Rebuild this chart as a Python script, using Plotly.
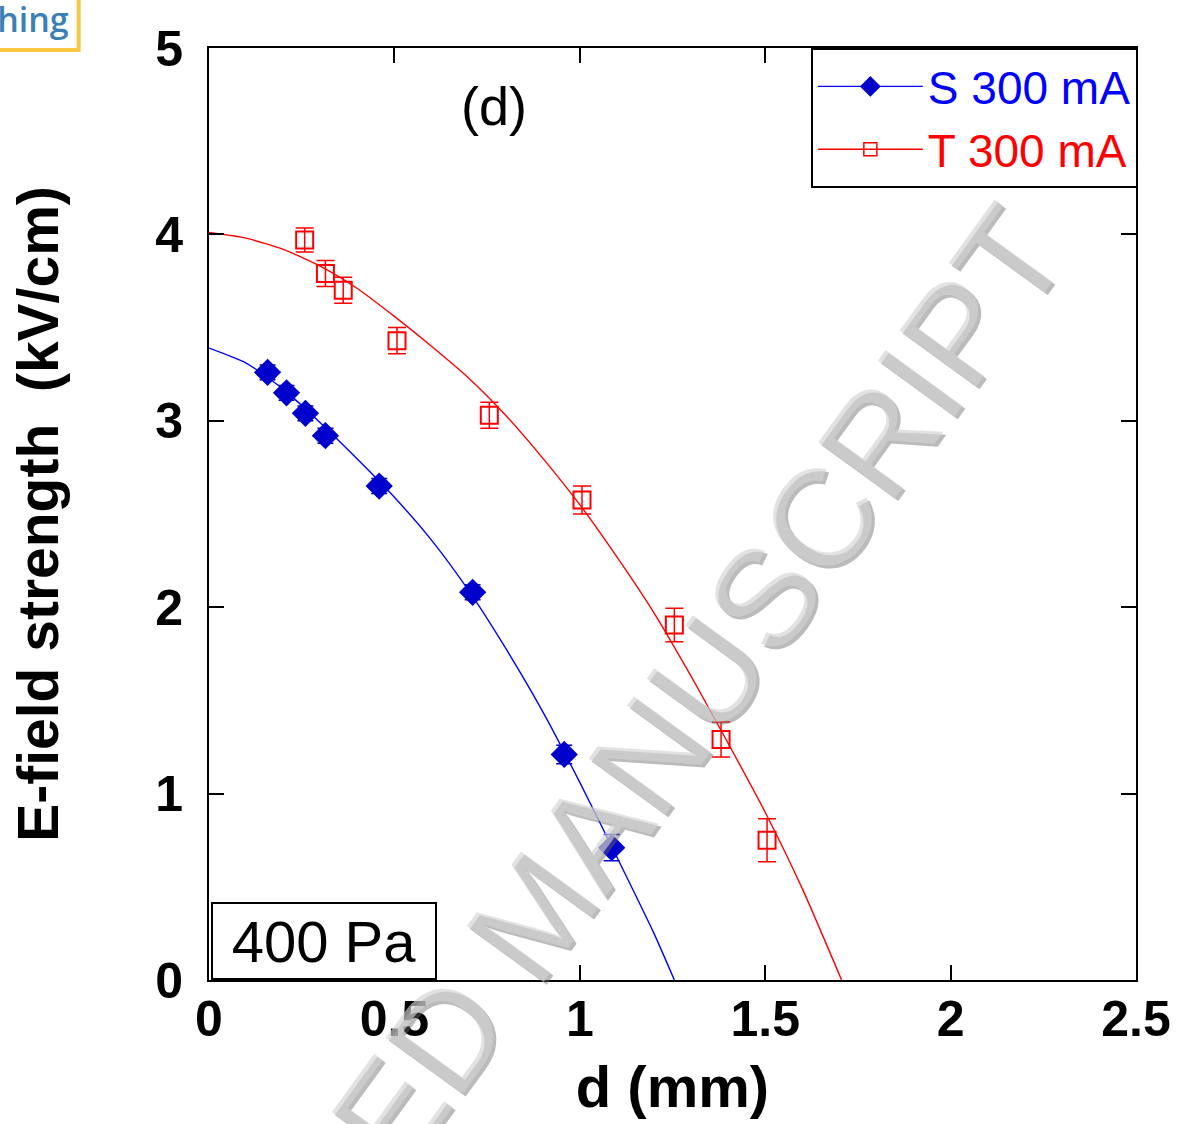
import plotly.graph_objects as go

# --- measured points (d in mm, E in kV/cm) ---
s_d = [0.158, 0.209, 0.260, 0.314, 0.459, 0.711, 0.958, 1.086]
s_E = [3.26, 3.15, 3.04, 2.92, 2.65, 2.08, 1.21, 0.71]
s_err = [0.04, 0.04, 0.04, 0.04, 0.04, 0.04, 0.05, 0.07]

t_d = [0.258, 0.314, 0.362, 0.507, 0.756, 1.006, 1.255, 1.381, 1.505]
t_E = [3.97, 3.79, 3.70, 3.43, 3.03, 2.575, 1.905, 1.29, 0.75]
t_err = [0.065, 0.07, 0.07, 0.07, 0.07, 0.075, 0.09, 0.094, 0.115]

# --- fitted profiles ---
s_fit_d = [0.0, 0.1, 0.2, 0.3, 0.4, 0.5, 0.6, 0.7, 0.8, 0.9, 1.0, 1.1, 1.2, 1.255]
s_fit_E = [3.39, 3.31, 3.17, 2.99, 2.795, 2.59, 2.36, 2.09, 1.78, 1.44, 1.06, 0.66, 0.25, 0.0]

t_fit_d = [0.0, 0.1, 0.2, 0.3, 0.4, 0.5, 0.6, 0.7, 0.8, 0.9,
           1.0, 1.1, 1.2, 1.3, 1.4, 1.5, 1.6, 1.706]
t_fit_E = [4.01, 3.98, 3.92, 3.83, 3.71, 3.56, 3.40, 3.23, 3.03, 2.80,
           2.55, 2.27, 1.97, 1.63, 1.27, 0.90, 0.49, 0.0]

x_ticks = [0, 0.5, 1, 1.5, 2, 2.5]
x_tick_text = ["0", "0.5", "1", "1.5", "2", "2.5"]
y_ticks = [0, 1, 2, 3, 4, 5]

BLUE = "#0000ff"
BLUE_MK = "#0000cc"
RED = "#ff0000"
FONT = "Liberation Sans, Arial, sans-serif"

fig = go.Figure()

# fitted curves
fig.add_trace(go.Scatter(x=s_fit_d, y=s_fit_E, mode="lines", showlegend=False,
                         line=dict(color=BLUE, width=1.4, shape="spline", smoothing=0.6)))
fig.add_trace(go.Scatter(x=t_fit_d, y=t_fit_E, mode="lines", showlegend=False,
                         line=dict(color=RED, width=1.4, shape="spline", smoothing=0.6)))

# measured data with error bars
fig.add_trace(go.Scatter(
    x=s_d, y=s_E, mode="markers", showlegend=False,
    marker=dict(symbol="diamond", size=21, color=BLUE_MK),
    error_y=dict(type="data", array=s_err, color=BLUE_MK, thickness=1.5, width=8),
))
fig.add_trace(go.Scatter(
    x=t_d, y=t_E, mode="markers", showlegend=False,
    marker=dict(symbol="square-open", size=17, color=RED, line=dict(width=2, color=RED)),
    error_y=dict(type="data", array=t_err, color=RED, thickness=1.5, width=9),
))

# legend entries (line + symbol)
fig.add_trace(go.Scatter(
    x=[None], y=[None], mode="lines+markers",
    name="<span style='color:#0000ff'>S 300 mA</span>",
    line=dict(color=BLUE, width=1.4),
    marker=dict(symbol="diamond", size=16, color=BLUE_MK),
))
fig.add_trace(go.Scatter(
    x=[None], y=[None], mode="lines+markers",
    name="<span style='color:#ff0000'>T 300 mA</span>",
    line=dict(color=RED, width=1.4),
    marker=dict(symbol="square-open", size=13, color=RED, line=dict(width=1.5, color=RED)),
))

axis_common = dict(
    showline=True, linecolor="black", linewidth=2, mirror="ticks",
    ticks="inside", ticklen=15, tickwidth=1.5, tickcolor="black",
    showgrid=False, zeroline=False,
    tickfont=dict(family=FONT, size=50, color="black", weight="bold"),
)

fig.update_xaxes(range=[0, 2.5], tickvals=x_ticks, ticktext=x_tick_text,
                 ticklabelstandoff=-6,
                 title=dict(text="d (mm)", standoff=20,
                            font=dict(family=FONT, size=58, color="black", weight="bold")),
                 **axis_common)
fig.update_yaxes(range=[0, 5], tickvals=y_ticks,
                 ticklabelstandoff=14,
                 title=dict(text="E-field strength  (kV/cm)", standoff=78,
                            font=dict(family=FONT, size=57, color="black", weight="bold")),
                 **axis_common)

# watermark: offset shadow then lighter face
wm_text = "ACCEPTED MANUSCRIPT"
for shift, col in [((3, -3), "rgba(105,105,105,0.45)"), ((0, 0), "rgba(210,210,210,0.65)")]:
    fig.add_annotation(text=wm_text, xref="paper", yref="paper", x=0.351, y=0.072,
                       xanchor="center", yanchor="middle", showarrow=False,
                       textangle=-54, xshift=shift[0], yshift=shift[1],
                       font=dict(family=FONT, size=138, color=col))

fig.add_annotation(text="(d)", xref="paper", yref="paper", x=0.307, y=0.938,
                   xanchor="center", yanchor="middle", showarrow=False,
                   font=dict(family=FONT, size=54, color="black"))

fig.add_annotation(text="400 Pa", xref="paper", yref="paper", x=0.002, y=0.0,
                   xanchor="left", yanchor="bottom", showarrow=False,
                   width=220, height=72, borderpad=1, borderwidth=2,
                   bordercolor="black", bgcolor="white",
                   font=dict(family=FONT, size=58, color="black"))

# publisher tab in the top-left corner
fig.add_shape(type="rect", xref="paper", yref="paper", x0=-0.5, x1=-0.1406,
              y0=0.9979, y1=1.2, line=dict(color="#f7c840", width=4), fillcolor="white")
fig.add_annotation(text="Publishing", xref="paper", yref="paper", x=-0.149, y=1.031,
                   xanchor="right", yanchor="middle", showarrow=False,
                   font=dict(family="Open Sans, sans-serif", size=34, color="#3b80b4",
                             weight=600))

fig.update_layout(
    width=1183, height=1124,
    margin=dict(l=209, r=42, t=48, b=144),
    paper_bgcolor="white", plot_bgcolor="white",
    legend=dict(x=1.002, y=1.0, xanchor="right", yanchor="top",
                bordercolor="black", borderwidth=2, bgcolor="white",
                font=dict(family=FONT, size=46),
                itemwidth=105, tracegroupgap=0),
    showlegend=True,
)

fig.write_html("out.html")
